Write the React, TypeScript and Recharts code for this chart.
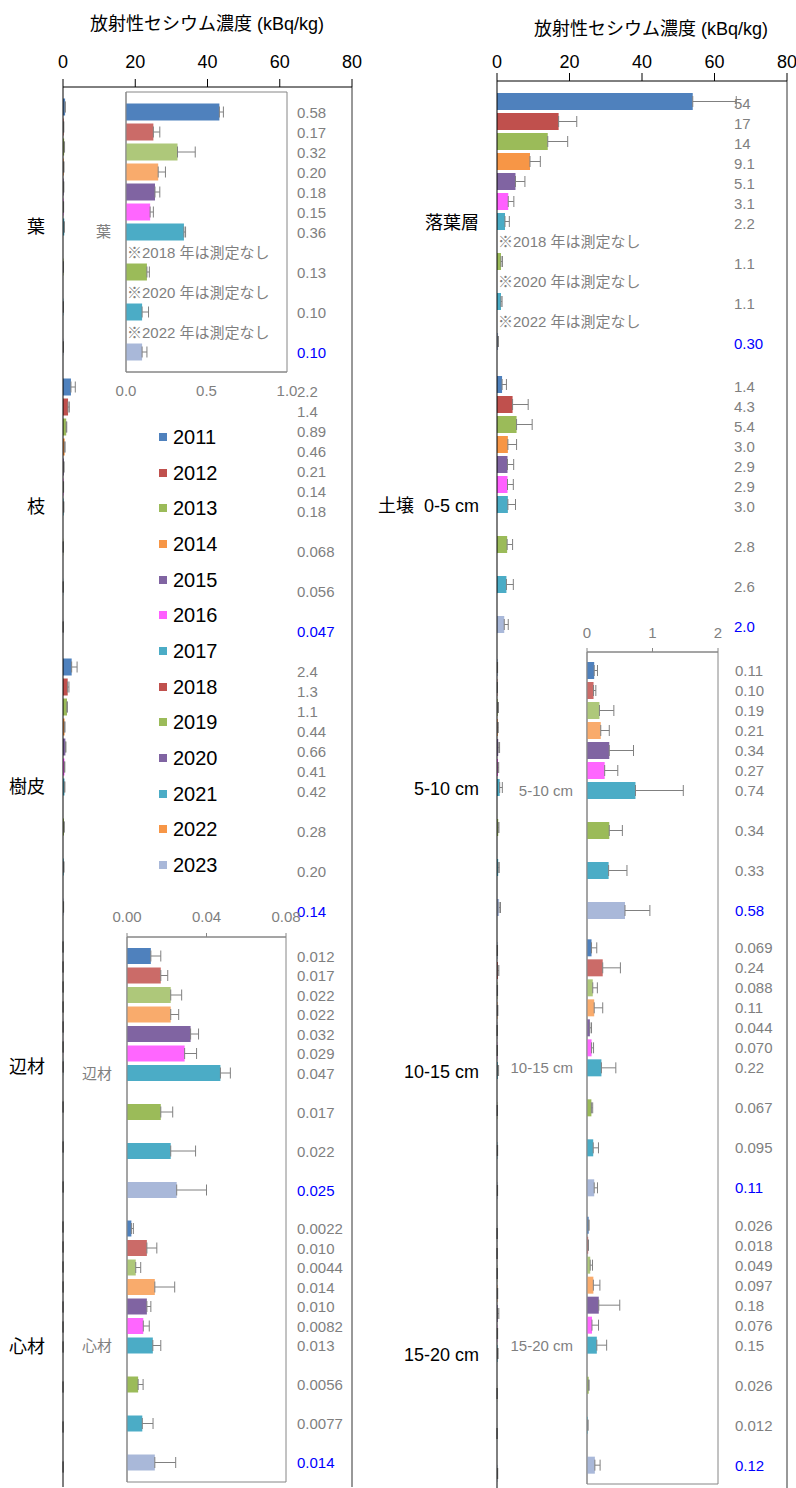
import React from "react";
import {
  BarChart,
  Bar,
  XAxis,
  YAxis,
  ErrorBar,
  LabelList,
  Legend,
  ReferenceArea,
  ReferenceLine,
} from "recharts";

const years = ["2011", "2012", "2013", "2014", "2015", "2016", "2017", "2018", "2019", "2020", "2021", "2022", "2023"];
const notMeasured = ["2018", "2020", "2022"];
const treeParts = ["葉", "枝", "樹皮", "辺材", "心材"];
const litterSoil = ["落葉層", "土壌\u00a0\u00a00-5 cm", "5-10 cm", "10-15 cm", "15-20 cm"];
const axisTitle = "放射性セシウム濃度 (kBq/kg)";

const mainTicks = [0, 20, 40, 60, 80];
const leafTicks = [0, 0.5, 1];
const woodTicks = [0, 0.04, 0.08];
const soilTicks = [0, 1, 2];

// kBq/kg, one value per year (null = not measured)
const leaf = [0.58, 0.17, 0.32, 0.2, 0.18, 0.15, 0.36, null, 0.13, null, 0.1, null, 0.1];
const leafErr = [0.025, 0.04, 0.11, 0.045, 0.03, 0.02, 0.01, null, 0.015, null, 0.04, null, 0.03];
const branch = [2.2, 1.4, 0.89, 0.46, 0.21, 0.14, 0.18, null, 0.068, null, 0.056, null, 0.047];
const branchErr = [1.2, 0.35, 0.15, 0.1, 0.05, 0.03, 0.04, null, 0.01, null, 0.01, null, 0.01];
const bark = [2.4, 1.3, 1.1, 0.44, 0.66, 0.41, 0.42, null, 0.28, null, 0.2, null, 0.14];
const barkErr = [1.5, 0.35, 0.1, 0.1, 0.15, 0.1, 0.1, null, 0.05, null, 0.05, null, 0.03];
const sapwood = [0.012, 0.017, 0.022, 0.022, 0.032, 0.029, 0.047, null, 0.017, null, 0.022, null, 0.025];
const sapwoodErr = [0.005, 0.0035, 0.0055, 0.004, 0.004, 0.006, 0.005, null, 0.006, null, 0.0125, null, 0.015];
const heartwood = [0.0022, 0.01, 0.0044, 0.014, 0.01, 0.0082, 0.013, null, 0.0056, null, 0.0077, null, 0.014];
const heartwoodErr = [0.001, 0.005, 0.0025, 0.01, 0.002, 0.003, 0.004, null, 0.0025, null, 0.0054, null, 0.0105];

const litter = [54, 17, 14, 9.1, 5.1, 3.1, 2.2, null, 1.1, null, 1.1, null, 0.3];
const litterErr = [12, 5.0, 5.5, 2.85, 2.6, 1.55, 1.2, null, 0.4, null, 0.3, null, 0.1];
const soil0to5 = [1.4, 4.3, 5.4, 3.0, 2.9, 2.9, 3.0, null, 2.8, null, 2.6, null, 2.0];
const soil0to5Err = [1.2, 4.3, 4.3, 2.4, 1.7, 1.6, 2.1, null, 1.5, null, 1.9, null, 1.1];
const soil5to10 = [0.11, 0.1, 0.19, 0.21, 0.34, 0.27, 0.74, null, 0.34, null, 0.33, null, 0.58];
const soil5to10Err = [0.05, 0.035, 0.22, 0.13, 0.37, 0.2, 0.73, null, 0.2, null, 0.28, null, 0.38];
const soil10to15 = [0.069, 0.24, 0.088, 0.11, 0.044, 0.07, 0.22, null, 0.067, null, 0.095, null, 0.11];
const soil10to15Err = [0.08, 0.27, 0.07, 0.13, 0.025, 0.03, 0.22, null, 0.02, null, 0.08, null, 0.05];
const soil15to20 = [0.026, 0.018, 0.049, 0.097, 0.18, 0.076, 0.15, null, 0.026, null, 0.012, null, 0.12];
const soil15to20Err = [0.005, 0.005, 0.035, 0.1, 0.32, 0.1, 0.15, null, 0.005, null, 0.003, null, 0.08];

const mainColors = ["#4F81BD", "#C0504D", "#9BBB59", "#F79646", "#8064A2", "#FF5FFF", "#4BACC6", "#C0504D", "#9BBB59", "#8064A2", "#4BACC6", "#F79646", "#A9B8D9"];
const insetColors = ["#4F81BD", "#CB6B68", "#AEC87A", "#F9AB6C", "#8064A2", "#FF66FF", "#4BACC6", "#C0504D", "#9BBB59", "#8064A2", "#4BACC6", "#F79646", "#A9B8D9"];

const GRAY = "#7f7f7f";
const BOX = "#868686";
const FONT = '"Liberation Sans", Arial, "Noto Sans CJK JP", sans-serif';

function buildRows(cats: string[], vals: (number | null)[][], errs: (number | null)[][]) {
  return cats.map((cat, c) => {
    const row: Record<string, any> = { cat };
    years.forEach((yr, i) => {
      row[`v${yr}`] = vals[c][i];
      const e = errs[c][i];
      row[`e${yr}`] = e == null ? null : [0, e];
    });
    return row;
  });
}

const treeRows = buildRows(
  treeParts,
  [leaf, branch, bark, sapwood, heartwood],
  [leafErr, branchErr, barkErr, sapwoodErr, heartwoodErr]
);
const floorRows = buildRows(
  litterSoil,
  [litter, soil0to5, soil5to10, soil10to15, soil15to20],
  [litterErr, soil0to5Err, soil5to10Err, soil10to15Err, soil15to20Err]
);

const fmt = (v: number) => Number(v).toPrecision(2);

const valueLabel = (x: number, dy: number, color: string, cats: number[]) => (p: any) => {
  const vb = p.viewBox ?? p;
  if (p.value == null || !cats.includes(p.index)) return null;
  return (
    <text x={x} y={vb.y + vb.height / 2 + dy} fill={color} fontSize={15} dominantBaseline="central">
      {fmt(p.value)}
    </text>
  );
};

// "not measured" note sits in the slot of the missing year, one bar pitch below the previous year
const noteLabel = (yr: string, cats: number[], gap: number) => (p: any) => {
  const vb = p.viewBox ?? p;
  if (!cats.includes(p.index)) return null;
  return (
    <text
      x={vb.x + 1}
      y={vb.y + vb.height * 1.5 + gap}
      fill={GRAY}
      fontSize={15}
      dominantBaseline="central"
    >
      {`※${yr} 年は測定なし`}
    </text>
  );
};

function yearBars(colors: string[], labelX: number, dy: number, labelCats: number[], noteCats: number[], gap: number) {
  return years.map((yr, i) => {
    const missing = notMeasured.includes(yr);
    const next = years[i + 1];
    const color = yr === "2023" ? "#0000ff" : GRAY;
    return (
      <Bar key={yr} dataKey={`v${yr}`} name={yr} fill={colors[i]} isAnimationActive={false}>
        {!missing && (
          <ErrorBar dataKey={`e${yr}`} direction="x" width={5.5} stroke="#808080" strokeWidth={1} />
        )}
        {!missing && <LabelList content={valueLabel(labelX, dy, color, labelCats)} />}
        {!missing && next && notMeasured.includes(next) && noteCats.length > 0 && (
          <LabelList content={noteLabel(next, noteCats, gap)} />
        )}
      </Bar>
    );
  });
}

function YearLegend({ payload }: any) {
  return (
    <div>
      {(payload ?? []).map((p: any) => (
        <div key={p.value} style={{ display: "flex", alignItems: "center", height: 35.7 }}>
          <span style={{ display: "inline-block", width: 8, height: 8, background: p.color, marginRight: 6 }} />
          <span style={{ fontSize: 20, color: "#000", lineHeight: "22px" }}>{p.value}</span>
        </div>
      ))}
    </div>
  );
}

const titleStyle = (left: number, width: number, top: number): React.CSSProperties => ({
  position: "absolute",
  left,
  top,
  width,
  textAlign: "center",
  fontSize: 18,
  lineHeight: "22px",
  whiteSpace: "nowrap",
  color: "#000",
});

const insetTick = { fill: GRAY, fontSize: 15 };

export default function App() {
  return (
    <div
      style={{
        position: "absolute",
        left: 0,
        top: 0,
        width: 796,
        height: 1488,
        overflow: "hidden",
        background: "#fff",
        fontFamily: FONT,
      }}
    >
      <div style={titleStyle(0, 414, 13)}>{axisTitle}</div>
      <div style={titleStyle(506, 290, 18)}>{axisTitle}</div>

      {/* left: tree parts, 0-80 */}
      <div style={{ position: "absolute", left: 0, top: 0 }}>
        <BarChart
          width={400}
          height={1500}
          layout="vertical"
          data={treeRows}
          margin={{ top: 0, right: 48, bottom: 13, left: 0 }}
          barCategoryGap={11.5}
          barGap={3}
        >
          <XAxis
            type="number"
            orientation="top"
            domain={[0, 80]}
            ticks={mainTicks}
            height={87}
            tickSize={8}
            tickMargin={11}
            tick={{ fill: "#000", fontSize: 18 }}
            axisLine={{ stroke: "#000" }}
            tickLine={{ stroke: "#000" }}
          />
          <YAxis
            type="category"
            dataKey="cat"
            width={63}
            tickLine={false}
            tickSize={6}
            tickMargin={12}
            tick={{ fill: "#000", fontSize: 18 }}
            axisLine={{ stroke: "#000" }}
          />
          <ReferenceLine x={80} stroke="#333" />
          {yearBars(mainColors, 297, 4, [1, 2], [], 3)}
          <Legend
            layout="vertical"
            align="center"
            verticalAlign="middle"
            wrapperStyle={{ left: 159, top: 419, width: 90 }}
            content={<YearLegend />}
          />
        </BarChart>
      </div>

      {/* right: litter and soil, 0-80 */}
      <div style={{ position: "absolute", left: 350, top: 0 }}>
        <BarChart
          width={446}
          height={1500}
          layout="vertical"
          data={floorRows}
          margin={{ top: 0, right: 9, bottom: 4, left: 0 }}
          barCategoryGap={12}
          barGap={3}
        >
          <XAxis
            type="number"
            orientation="top"
            domain={[0, 80]}
            ticks={mainTicks}
            height={81}
            tickSize={8}
            tickMargin={5}
            tick={{ fill: "#000", fontSize: 18 }}
            axisLine={{ stroke: "#000" }}
            tickLine={{ stroke: "#000" }}
          />
          <YAxis
            type="category"
            dataKey="cat"
            width={147}
            tickLine={false}
            tickSize={6}
            tickMargin={12}
            tick={{ fill: "#000", fontSize: 18 }}
            axisLine={{ stroke: "#000" }}
          />
          <ReferenceLine x={80} stroke="#333" />
          {yearBars(mainColors, 384, 2, [0, 1], [0], 3)}
        </BarChart>
      </div>

      {/* inset: leaves, 0-1.0 */}
      <div style={{ position: "absolute", left: 40, top: 80 }}>
        <BarChart
          width={300}
          height={330}
          layout="vertical"
          data={treeRows.slice(0, 1)}
          margin={{ top: 12, right: 53, bottom: 8, left: 0 }}
          barCategoryGap={11.5}
          barGap={3}
        >
          <XAxis
            type="number"
            orientation="bottom"
            domain={[0, 1]}
            ticks={leafTicks}
            tickFormatter={(v: number) => v.toFixed(1)}
            height={30}
            tickLine={false}
            tickSize={5}
            tickMargin={8}
            tick={insetTick}
            axisLine={{ stroke: BOX }}
          />
          <YAxis
            type="category"
            dataKey="cat"
            width={86}
            tickLine={false}
            tickSize={5}
            tickMargin={10}
            tick={insetTick}
            axisLine={{ stroke: BOX }}
          />
          <ReferenceArea x1={0} x2={1} stroke={BOX} fill="none" fillOpacity={0} />
          {yearBars(insetColors, 257, 0, [0], [0], 3)}
        </BarChart>
      </div>

      {/* inset: sapwood and heartwood, 0-0.08 */}
      <div style={{ position: "absolute", left: 40, top: 895 }}>
        <BarChart
          width={330}
          height={593}
          layout="vertical"
          data={treeRows.slice(3, 5)}
          margin={{ top: 0, right: 84, bottom: 6, left: 0 }}
          barCategoryGap={11}
          barGap={3.5}
        >
          <XAxis
            type="number"
            orientation="top"
            domain={[0, 0.08]}
            ticks={woodTicks}
            tickFormatter={(v: number) => v.toFixed(2)}
            height={42}
            tickSize={4}
            tickMargin={11}
            tick={insetTick}
            axisLine={{ stroke: BOX }}
            tickLine={{ stroke: BOX }}
          />
          <YAxis
            type="category"
            dataKey="cat"
            width={87}
            tickLine={false}
            tickSize={5}
            tickMargin={10}
            tick={insetTick}
            axisLine={{ stroke: BOX }}
          />
          <ReferenceArea x1={0} x2={0.08} stroke={BOX} fill="none" fillOpacity={0} />
          {yearBars(insetColors, 257, 0, [0, 1], [], 3.5)}
        </BarChart>
      </div>

      {/* inset: soil 5-20 cm, 0-2 */}
      <div style={{ position: "absolute", left: 400, top: 600 }}>
        <BarChart
          width={396}
          height={888}
          layout="vertical"
          data={floorRows.slice(2, 5)}
          margin={{ top: 0, right: 78, bottom: 4, left: 0 }}
          barCategoryGap={10}
          barGap={3}
        >
          <XAxis
            type="number"
            orientation="top"
            domain={[0, 2]}
            ticks={soilTicks}
            height={52}
            tickSize={4}
            tickMargin={10}
            tick={insetTick}
            axisLine={{ stroke: BOX }}
            tickLine={{ stroke: BOX }}
          />
          <YAxis
            type="category"
            dataKey="cat"
            width={187}
            tickLine={false}
            tickSize={5}
            tickMargin={9}
            tick={insetTick}
            axisLine={{ stroke: BOX }}
          />
          <ReferenceArea x1={0} x2={2} stroke={BOX} fill="none" fillOpacity={0} />
          {yearBars(insetColors, 335, 0, [0, 1, 2], [], 3)}
        </BarChart>
      </div>
    </div>
  );
}
